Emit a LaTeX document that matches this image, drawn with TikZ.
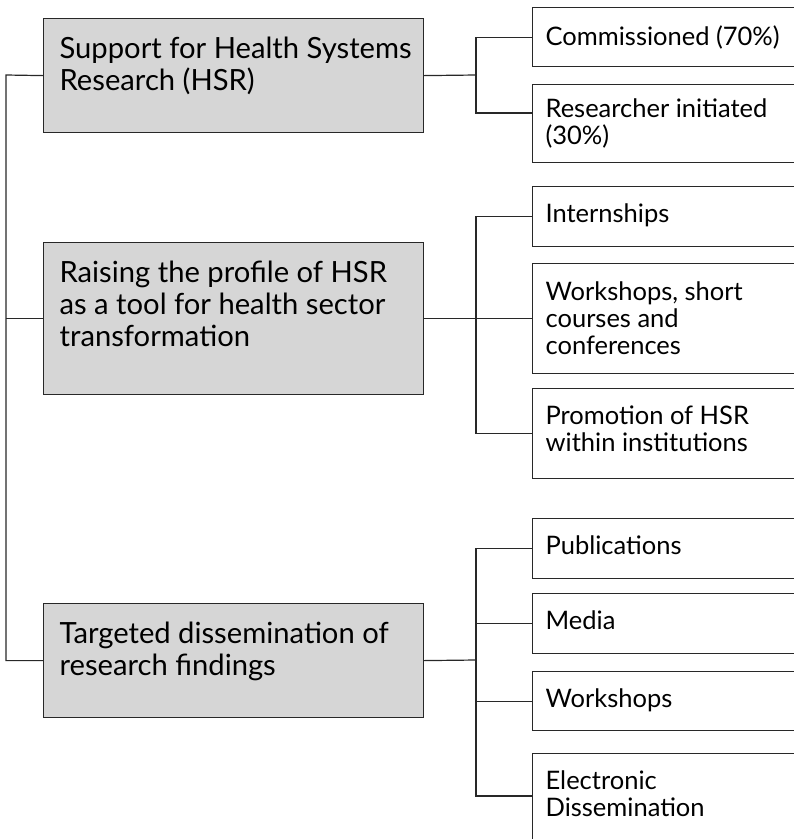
\documentclass[tikz,border=0pt]{standalone}
\usepackage{fontspec}
\setmainfont{Lato}
\definecolor{boxgray}{RGB}{214,214,214}
\definecolor{linegray}{RGB}{40,40,40}
\newcommand{\bigtxt}[1]{\begin{minipage}[t]{348pt}\fontsize{29.2}{32}\selectfont\raggedright #1\end{minipage}}
\newcommand{\smalltxt}[1]{\begin{minipage}[t]{280pt}\fontsize{25.5}{27}\selectfont\raggedright #1\end{minipage}}
\begin{document}
\begin{tikzpicture}[x=1pt,y=-1pt,
  line width=1.2pt, draw=linegray,
  bigbox/.style={draw=linegray, fill=boxgray, anchor=north west, inner xsep=16pt, inner ysep=0pt, text height=40pt},
  smallbox/.style={draw=linegray, fill=white, anchor=north west, inner xsep=13pt, inner ysep=0pt, text height=36pt},
  conn/.style={draw=linegray, line width=1.2pt}]
\useasboundingbox (0,0) rectangle (794,839);
\clip (0,0) rectangle (794,839);
% main boxes
\node[bigbox, text depth=74pt] (B1) at (43,18) {\bigtxt{\mbox{Support for Health Systems}\\Research (HSR)}};
\node[bigbox, text depth=112pt] (B2) at (43,242) {\bigtxt{\mbox{Raising the profile of HSR}\\\mbox{as a tool for health sector}\\transformation}};
\node[bigbox, text depth=74pt] (B3) at (43,603) {\bigtxt{\mbox{Targeted dissemination of}\\research findings}};
% right boxes
\node[smallbox, text height=38pt, text depth=21pt] (R1a) at (532,7) {\smalltxt{Commissioned (70\%)}};
\node[smallbox, text height=33pt, text depth=45pt] (R1b) at (532,84) {\smalltxt{Researcher initiated\\(30\%)}};
\node[smallbox, text depth=24pt] (R2a) at (532,186) {\smalltxt{Internships}};
\node[smallbox, text height=37pt, text depth=73pt] (R2b) at (532,263) {\smalltxt{Workshops, short\\courses and\\conferences}};
\node[smallbox, text depth=54pt] (R2c) at (532,388) {\smalltxt{Promotion of HSR\\within institutions}};
\node[smallbox, text depth=24pt] (R3a) at (532,518) {\smalltxt{Publications}};
\node[smallbox, text depth=24pt] (R3b) at (532,593) {\smalltxt{Media}};
\node[smallbox, text depth=23pt] (R3c) at (532,671) {\smalltxt{Workshops}};
\node[smallbox, text depth=60pt] (R3d) at (532,753) {\smalltxt{Electronic\\Dissemination}};
% junctions
\coordinate (spine) at (6,75);
\coordinate (j1) at (476,75);
\coordinate (j2) at (476,318);
\coordinate (j3) at (476,660);
\coordinate (c1b) at (532,113);
\coordinate (c3d) at (532,796);
% left spine
\draw[conn] (B1.west) -- (spine) |- (B3.west);
\draw[conn] (B2.west) -- (B2.west -| spine);
% group 1
\draw[conn] (B1.east) -- (j1);
\draw[conn] (R1a.west) -| (j1) |- (c1b);
% group 2
\draw[conn] (B2.east) -- (R2b.west);
\draw[conn] (R2a.west) -| (j2) |- (R2c.west);
% group 3
\draw[conn] (B3.east) -- (j3);
\draw[conn] (R3a.west) -| (j3) |- (c3d);
\draw[conn] (R3b.west) -- (R3b.west -| j3);
\draw[conn] (R3c.west) -- (R3c.west -| j3);
\end{tikzpicture}
\end{document}
